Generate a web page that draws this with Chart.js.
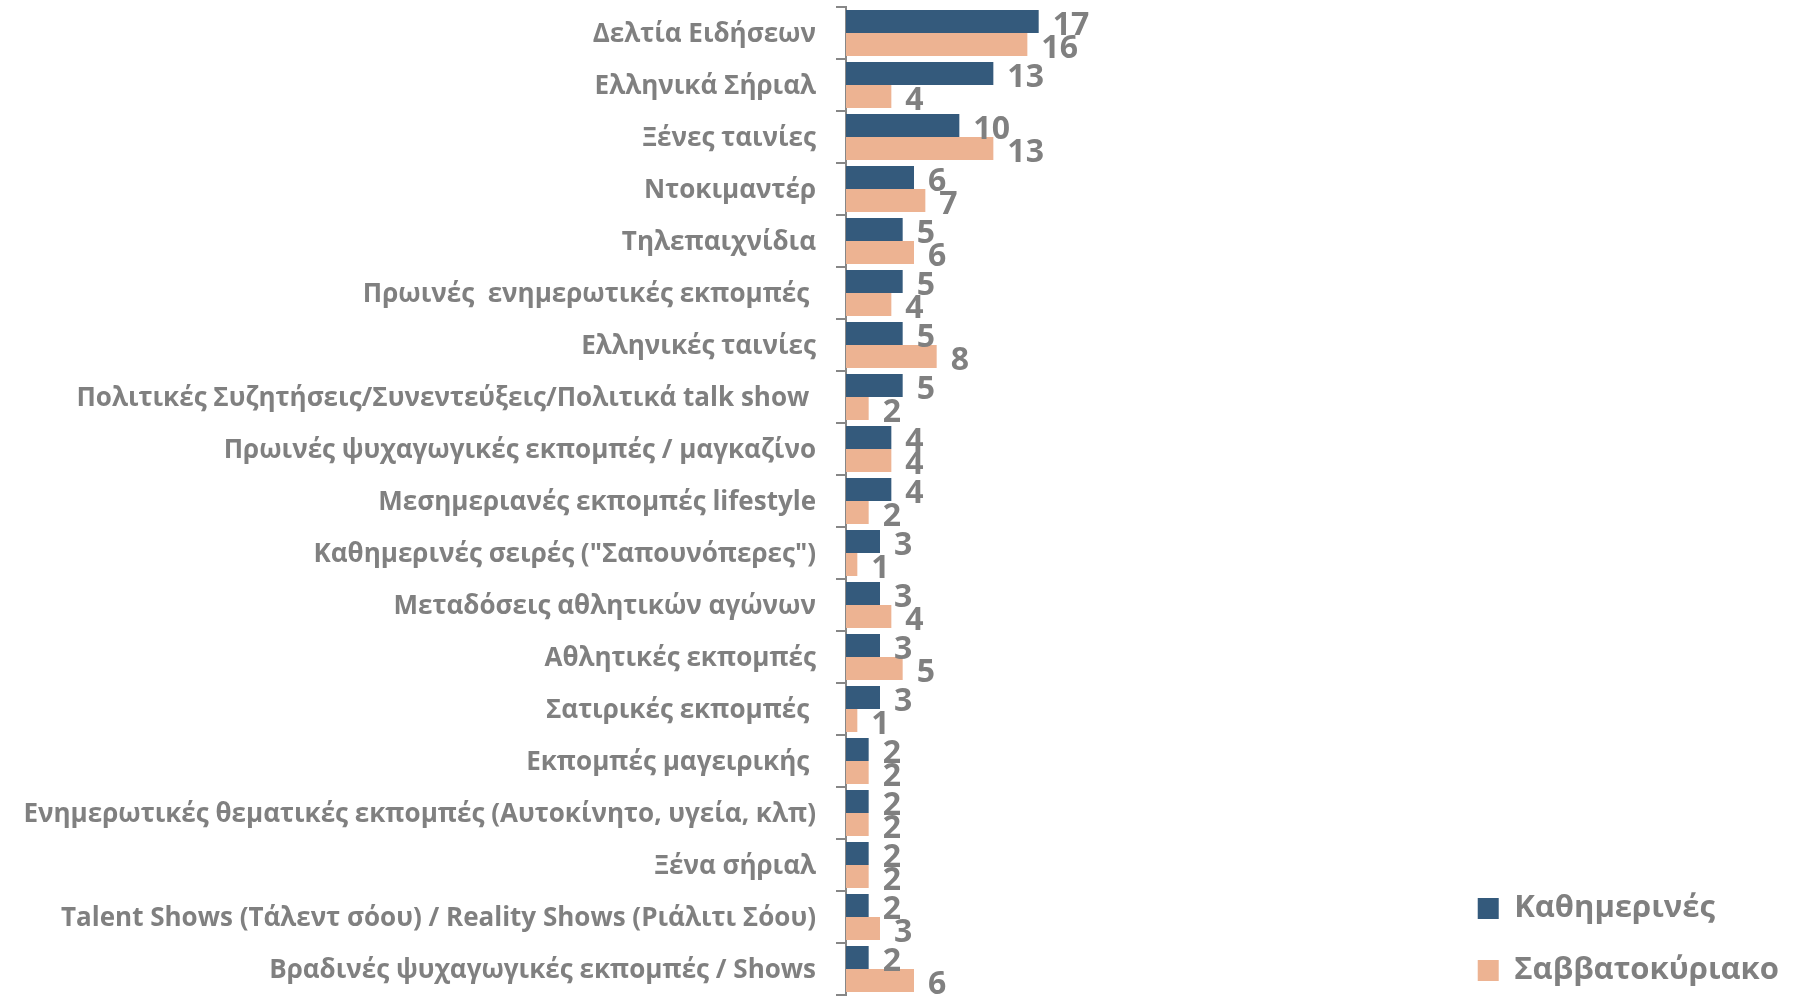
<!DOCTYPE html>
<html>
<head>
<meta charset="utf-8">
<script src="https://cdn.jsdelivr.net/npm/chart.js@4.4.1/dist/chart.umd.min.js"></script>
<style>
  html, body { margin: 0; padding: 0; background: #fff; }
  #wrap { width: 1793px; height: 999px; position: relative; }
</style>
</head>
<body>
<div id="wrap"><canvas id="tvChart"></canvas></div>
<script>
// chart data
const categories = [
    'Δελτία Ειδήσεων',
    'Ελληνικά Σήριαλ',
    'Ξένες ταινίες',
    'Ντοκιμαντέρ',
    'Τηλεπαιχνίδια',
    'Πρωινές  ενημερωτικές εκπομπές ',
    'Ελληνικές ταινίες',
    'Πολιτικές Συζητήσεις/Συνεντεύξεις/Πολιτικά talk show ',
    'Πρωινές ψυχαγωγικές εκπομπές / μαγκαζίνο',
    'Μεσημεριανές εκπομπές lifestyle',
    'Καθημερινές σειρές ("Σαπουνόπερες")',
    'Μεταδόσεις αθλητικών αγώνων',
    'Αθλητικές εκπομπές',
    'Σατιρικές εκπομπές ',
    'Εκπομπές μαγειρικής ',
    'Ενημερωτικές θεματικές εκπομπές (Αυτοκίνητο, υγεία, κλπ)',
    'Ξένα σήριαλ',
    'Talent Shows (Τάλεντ σόου) / Reality Shows (Ριάλιτι Σόου)',
    'Βραδινές ψυχαγωγικές εκπομπές / Shows'
];
const weekdayValues = [17, 13, 10, 6, 5, 5, 5, 5, 4, 4, 3, 3, 3, 3, 2, 2, 2, 2, 2];
const weekendValues = [16, 4, 13, 7, 6, 4, 8, 2, 4, 2, 1, 4, 5, 1, 2, 2, 2, 3, 6];
const seriesNames = ['Καθημερινές', 'Σαββατοκύριακο'];

const greyText = '#808080';

// draws the value next to each bar (no datalabels plugin available)
const barValueLabels = {
    id: 'barValueLabels',
    afterLayout(chart) {
        // push the legend rows down to the bottom corner
        if (chart.legend) {
            chart.legend.top += 22;
            chart.legend.bottom += 22;
        }
    },
    afterDatasetsDraw(chart) {
        const ctx = chart.ctx;
        ctx.save();
        ctx.font = 'bold 32px "Open Sans"';
        ctx.fillStyle = greyText;
        ctx.textAlign = 'left';
        ctx.textBaseline = 'middle';
        chart.data.datasets.forEach(function(ds, di) {
            const meta = chart.getDatasetMeta(di);
            meta.data.forEach(function(bar, i) {
                ctx.fillText(String(ds.data[i]), bar.x + 14, bar.y + 4);
            });
        });
        ctx.restore();
    }
};

const chartCtx = document.getElementById('tvChart');
new Chart(chartCtx, {
    type: 'bar',
    data: {
        labels: categories,
        datasets: [{
            label: seriesNames[0],
            data: weekdayValues,
            backgroundColor: '#345a7c',
            categoryPercentage: 0.88,
            barPercentage: 1.0
        }, {
            label: seriesNames[1],
            data: weekendValues,
            backgroundColor: '#edb392',
            categoryPercentage: 0.88,
            barPercentage: 1.0
        }]
    },
    options: {
        indexAxis: 'y',
        responsive: true,
        maintainAspectRatio: false,
        animation: false,
        layout: {
            padding: { top: 7, bottom: 4, left: 0, right: 4 }
        },
        plugins: {
            legend: {
                position: 'right',
                align: 'end',
                labels: {
                    boxWidth: 21,
                    boxHeight: 21,
                    padding: 31,
                    color: greyText,
                    font: { family: '"Open Sans"', size: 31, weight: 'bold' }
                }
            },
            tooltip: { enabled: false }
        },
        scales: {
            x: {
                display: false,
                min: 0,
                max: 53
            },
            y: {
                afterFit: function(scale) {
                    // long labels: keep the axis line where the reference has it
                    scale.width = 846;
                    scale.paddingTop = 0;
                    scale.paddingBottom = 0;
                },
                grid: {
                    drawOnChartArea: false,
                    drawTicks: true,
                    tickLength: 10,
                    color: '#878787',
                    lineWidth: 2
                },
                border: { color: '#878787', width: 2 },
                ticks: {
                    color: greyText,
                    padding: 20,
                    labelOffset: 2,
                    autoSkip: false,
                    font: { family: '"Open Sans"', size: 26, weight: 'bold' }
                }
            }
        }
    },
    plugins: [barValueLabels]
});
</script>
</body>
</html>
